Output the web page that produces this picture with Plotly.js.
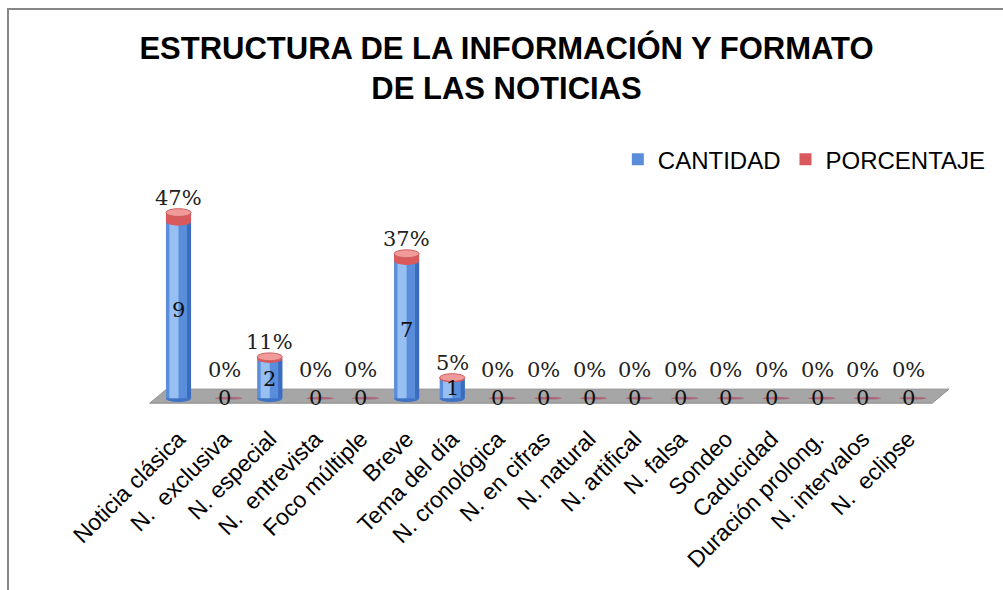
<!DOCTYPE html>
<html><head><meta charset="utf-8">
<script src="https://cdn.plot.ly/plotly-3.0.1.min.js"></script>
<style>
html,body{margin:0;padding:0;background:#fff;overflow:hidden;}
#frame{position:absolute;left:7px;top:8px;width:1100px;height:700px;border-left:2px solid #878787;border-top:2px solid #878787;}
#chart{position:absolute;left:0;top:0;width:1003px;height:590px;}
</style></head><body>
<div id="frame"></div>
<div id="chart"></div>
<script>
const categories = ["Noticia clásica","N.  exclusiva","N. especial","N.  entrevista","Foco múltiple","Breve","Tema del día","N. cronológica","N. en cifras","N. natural","N. artifical","N. falsa","Sondeo","Caducidad","Duración prolong.","N. intervalos","N.  eclipse"];
const cantidad = [9,0,2,0,0,7,1,0,0,0,0,0,0,0,0,0,0];
const porcentaje = [0.47,0,0.11,0,0,0.37,0.05,0,0,0,0,0,0,0,0,0,0];
const seriesNames = ["CANTIDAD","PORCENTAJE"];

const idx = categories.map((c,i)=>i);
const tops = cantidad.map((v,i)=>v+porcentaje[i]);
const pctText = porcentaje.map(p=>Math.round(p*100)+"%");
const W = 0.55;

const traces = [
  {type:"bar", name:seriesNames[0], x:idx, y:cantidad, base:idx.map(()=>0), width:W,
   marker:{color:"#5a8edb", line:{width:0}}, hoverinfo:"skip"},
  {type:"bar", showlegend:false, x:idx, y:cantidad, base:idx.map(()=>0), width:0.2, offset:-0.2,
   marker:{color:"#a3c8f6", line:{width:0}}, opacity:0.85, hoverinfo:"skip"},
  {type:"bar", showlegend:false, x:idx, y:cantidad, base:idx.map(()=>0), width:0.09, offset:0.185,
   marker:{color:"#3a6cc0", line:{width:0}}, hoverinfo:"skip"},
  {type:"bar", name:seriesNames[1], x:idx, y:porcentaje, base:cantidad, width:W,
   marker:{color:"#d9595c", line:{width:0}}, hoverinfo:"skip"}
];

const EH = 0.2;
const shapes = [
  {type:"path", xref:"x", yref:"y", layer:"below",
   path:"M -0.63 -0.256 L -0.26 0.46 L 16.89 0.46 L 16.52 -0.256 Z",
   fillcolor:"#a6a6a6", line:{color:"#8c8c8c", width:1}}
];
idx.forEach(i=>{
  if (cantidad[i] > 0) {
    shapes.push({type:"circle", xref:"x", yref:"y", layer:"below",
      x0:i-W/2, x1:i+W/2, y0:-EH, y1:EH, fillcolor:"#3f72c4", line:{width:0}});
    shapes.push({type:"circle", xref:"x", yref:"y", layer:"above",
      x0:i-W/2, x1:i+W/2, y0:cantidad[i]-EH, y1:cantidad[i]+EH, fillcolor:"#d9595c", line:{width:0}});
    shapes.push({type:"circle", xref:"x", yref:"y", layer:"above",
      x0:i-W/2, x1:i+W/2, y0:tops[i]-EH, y1:tops[i]+EH, fillcolor:"#f09a9a", line:{color:"#d06060", width:1}});
  } else {
    shapes.push({type:"circle", xref:"x", yref:"y", layer:"above",
      x0:i-0.2, x1:i+0.4, y0:-0.07, y1:0.07, fillcolor:"rgba(170,70,100,0.65)", line:{width:0}});
  }
});

const annotations = [];
idx.forEach(i=>{
  annotations.push({x:i, y:cantidad[i]/2, xref:"x", yref:"y", text:String(cantidad[i]), showarrow:false,
    yanchor:"middle", font:{family:"DejaVu Serif", size:21, color:"#111"}});
  annotations.push({x:i, y:tops[i], xref:"x", yref:"y", text:pctText[i], showarrow:false,
    yanchor:"bottom", yshift: cantidad[i] > 0 ? 1 : 14, font:{family:"DejaVu Serif", size:21, color:"#222"}});
});

const layout = {
  width:1003, height:590,
  margin:{l:142, r:43, t:163, b:184},
  paper_bgcolor:"rgba(0,0,0,0)", plot_bgcolor:"rgba(0,0,0,0)",
  barmode:"overlay",
  title:{text:"ESTRUCTURA DE LA INFORMACIÓN Y FORMATO<br>DE LAS NOTICIAS",
    font:{family:"Liberation Sans", size:31, color:"#000", weight:"bold"},
    x:0.505, xanchor:"center", y:0.90, yanchor:"top", yref:"container"},
  xaxis:{type:"linear", range:[-0.8,17], tickvals:idx, ticktext:categories, tickangle:-45,
    tickfont:{family:"Liberation Sans", size:23, color:"#000"}, ticklabelstandoff:14,
    showgrid:false, zeroline:false, showline:false, ticks:""},
  yaxis:{range:[-0.4,12], visible:false, showgrid:false, zeroline:false},
  legend:{orientation:"h", x:0.586, xanchor:"left", y:1.0136, yanchor:"middle",
    font:{family:"Liberation Sans", size:24, color:"#000"}, bgcolor:"rgba(0,0,0,0)"},
  shapes:shapes, annotations:annotations,
  hovermode:false
};
Plotly.newPlot("chart", traces, layout, {staticPlot:true, displayModeBar:false});
</script>
</body></html>
